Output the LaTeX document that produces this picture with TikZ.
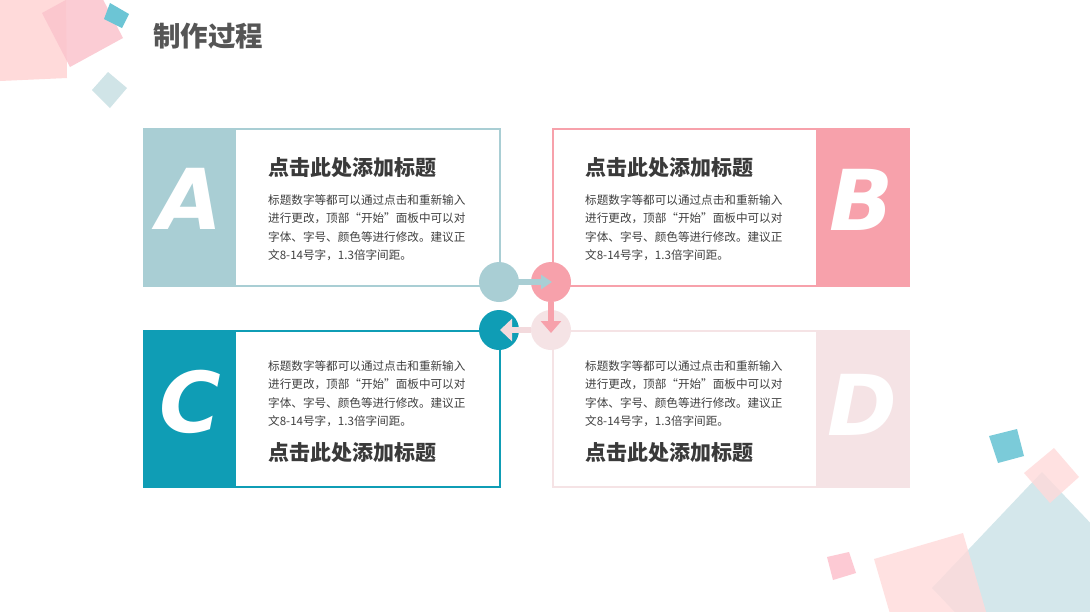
\documentclass[tikz,border=0pt]{standalone}
\usepackage{fontspec}
\usetikzlibrary{arrows.meta}
\newfontfamily\cjk{Noto Sans CJK SC}
\newfontfamily\letterfont{DejaVu Sans}
\definecolor{cA}{HTML}{A9CED4}
\definecolor{cB}{HTML}{F7A1AB}
\definecolor{cC}{HTML}{0F9DB5}
\definecolor{cD}{HTML}{F5E3E5}
\definecolor{arrDC}{HTML}{F3DADD}
\definecolor{txt}{HTML}{404040}
\definecolor{ttlc}{HTML}{3A3A3A}
\definecolor{headc}{HTML}{555555}
\definecolor{lpink}{HTML}{FFDADA}
\definecolor{mpink}{HTML}{FBC4CD}
\definecolor{teal2}{HTML}{6CC5D5}
\definecolor{gblue}{HTML}{D0E4E7}
\definecolor{bblue}{HTML}{D4E7EB}
\definecolor{spink}{HTML}{FDCAD4}
\tikzset{
  card/.style={draw=#1, line width=2pt, fill=white, minimum width=356pt, inner sep=0pt},
  panel/.style={fill=#1, minimum width=92pt, inner sep=0pt},
  letter/.style={inner sep=0pt, text=white, font=\letterfont\bfseries\itshape\fontsize{84}{84}\selectfont},
  circ/.style={circle, fill=#1, minimum size=40pt, inner sep=0pt},
  ttl/.style={anchor=west, inner sep=0pt, text=ttlc, font=\cjk\bfseries\fontsize{21}{25}\selectfont},
  body/.style={anchor=north west, inner sep=0pt, align=left, text=txt,
    font=\cjk\fontsize{11.6}{18.3}\selectfont},
  conn/.style={line width=6pt, draw=#1, -{Triangle[width=14pt,length=11pt]}},
}
\begin{document}
\begin{tikzpicture}[x=1pt,y=-1pt]
\useasboundingbox (0,0) rectangle (1090,611);
\fill[white] (0,0) rectangle (1090,611);
% top-left decorations
\fill[lpink] (0,0) -- (66,0) -- (67,78) -- (0,81) -- cycle;
\fill[mpink, opacity=0.85] (42,13) -- (70,67) -- (123,38) -- (95,-16) -- cycle;
\fill[teal2] (110,3) -- (129,14) -- (122,28) -- (104,19) -- cycle;
\fill[gblue] (92,90) -- (108,72) -- (127,88) -- (110,108) -- cycle;
% bottom-right decorations
\fill[bblue] (1042,472) -- (1152,588) -- (1042,704) -- (932,588) -- cycle;
\fill[lpink, opacity=0.8] (874,559) -- (963,533) -- (989,622) -- (900,648) -- cycle;
\fill[lpink, opacity=0.8] (1024,473) -- (1054,448) -- (1079,477) -- (1050,503) -- cycle;
\fill[teal2!90!white] (989,436) -- (1017,429) -- (1024,456) -- (998,463) -- cycle;
\fill[spink] (827,557) -- (849,552) -- (856,573) -- (833,580) -- cycle;
% heading
\node[anchor=west, inner sep=0pt, text=headc, font=\cjk\bfseries\fontsize{27.5}{31}\selectfont] (head) at (153,36) {制作过程};
% cards
\node[card=cA, minimum height=157pt] (boxA) at (322,207.5) {};
\node[card=cB, minimum height=157pt] (boxB) at (731,207.5) {};
\node[card=cC, minimum height=156pt] (boxC) at (322,409) {};
\node[card=cD, minimum height=156pt] (boxD) at (731,409) {};
\node[panel=cA, minimum height=157pt] (panA) at (190,207.5) {};
\node[panel=cB, minimum height=157pt, minimum width=93pt] (panB) at (862.5,207.5) {};
\node[panel=cC, minimum height=156pt] (panC) at (190,409) {};
\node[panel=cD, minimum height=156pt, minimum width=93pt] (panD) at (862.5,409) {};
\node[letter] (lA) at (190,199) {A};
\node[letter] (lB) at (862,200) {B};
\node[letter] (lC) at (190,402) {C};
\node[letter] (lD) at (862,405) {D};
% texts
\node[ttl] (tA) at (268,168) {点击此处添加标题};
\node[body] (bA) at (268,194.5) {标题数字等都可以通过点击和重新输入\\进行更改，顶部“开始”面板中可以对\\字体、字号、颜色等进行修改。建议正\\文8-14号字，1.3倍字间距。};
\node[ttl] (tB) at (585,168) {点击此处添加标题};
\node[body] (bB) at (585,194.5) {标题数字等都可以通过点击和重新输入\\进行更改，顶部“开始”面板中可以对\\字体、字号、颜色等进行修改。建议正\\文8-14号字，1.3倍字间距。};
\node[body] (bC) at (268,360.5) {标题数字等都可以通过点击和重新输入\\进行更改，顶部“开始”面板中可以对\\字体、字号、颜色等进行修改。建议正\\文8-14号字，1.3倍字间距。};
\node[ttl] (tC) at (268,453) {点击此处添加标题};
\node[body] (bD) at (585,360.5) {标题数字等都可以通过点击和重新输入\\进行更改，顶部“开始”面板中可以对\\字体、字号、颜色等进行修改。建议正\\文8-14号字，1.3倍字间距。};
\node[ttl] (tD) at (585,453) {点击此处添加标题};
% circles
\node[circ=cA] (cirA) at (499,282) {};
\node[circ=cB] (cirB) at (551,282) {};
\node[circ=cC] (cirC) at (499,330) {};
\node[circ=cD] (cirD) at (551,330) {};
% connectors
\draw[conn=cA] ([xshift=-1pt]cirA.east) -- ([xshift=1pt]cirB.center);
\draw[line width=6pt, draw=cB, -{Triangle[width=20pt,length=12pt]}] (cirB.south) -- ([yshift=-3pt]cirD.center);
\draw[line width=6pt, draw=arrDC, -{Triangle[width=22pt,length=12pt]}] (cirD.west) -- ([xshift=1pt]cirC.center);
\end{tikzpicture}
\end{document}
